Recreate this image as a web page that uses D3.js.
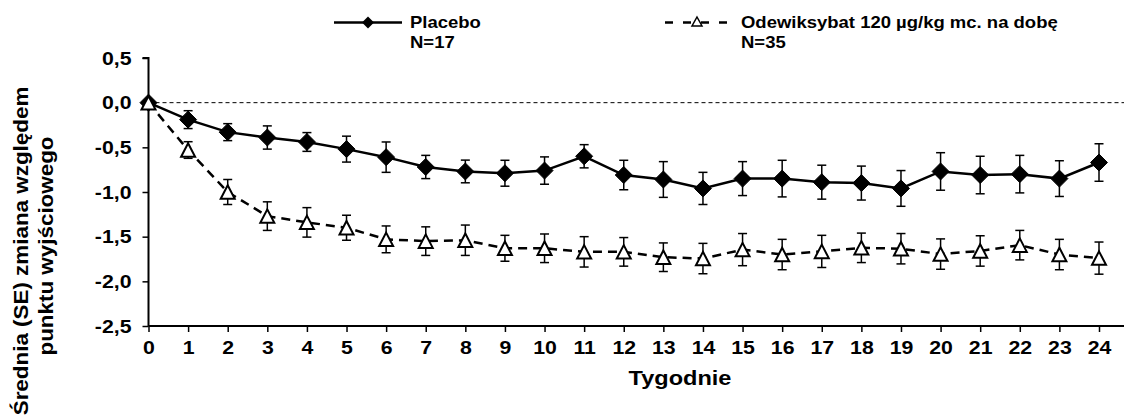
<!DOCTYPE html>
<html>
<head>
<meta charset="utf-8">
<script src="https://d3js.org/d3.v7.min.js"></script>
<style>
  body { margin: 0; background: #fff; }
  text { font-family: Arial, "Liberation Sans", sans-serif; font-weight: bold; fill: #000; }
</style>
</head>
<body>
<svg width="1124" height="418"></svg>
<script>
const weeks = [0, 1, 2, 3, 4, 5, 6, 7, 8, 9, 10, 11, 12, 13, 14, 15, 16, 17, 18, 19, 20, 21, 22, 23, 24];

const placeboMean = [0, -0.19, -0.33, -0.39, -0.44, -0.52, -0.61, -0.72, -0.77, -0.79, -0.76, -0.60, -0.81, -0.86,
  -0.96, -0.85, -0.85, -0.89, -0.90, -0.96, -0.77, -0.81, -0.80, -0.85, -0.67];
const placeboSE = [0, 0.10, 0.095, 0.13, 0.105, 0.145, 0.17, 0.13, 0.127, 0.145, 0.153, 0.13, 0.165, 0.20,
  0.18, 0.19, 0.205, 0.19, 0.19, 0.20, 0.21, 0.21, 0.21, 0.20, 0.21];

const odeMean = [0, -0.53, -1.00, -1.27, -1.34, -1.40, -1.53, -1.55, -1.54, -1.63, -1.63, -1.67, -1.67, -1.73,
  -1.745, -1.645, -1.70, -1.665, -1.625, -1.635, -1.695, -1.66, -1.595, -1.70, -1.74];
const odeSE = [0, 0.093, 0.14, 0.16, 0.165, 0.14, 0.15, 0.16, 0.17, 0.145, 0.16, 0.17, 0.16, 0.16,
  0.17, 0.18, 0.17, 0.18, 0.165, 0.17, 0.17, 0.17, 0.165, 0.17, 0.18];

const yTicks = [0.5, 0, -0.5, -1, -1.5, -2, -2.5];
const yTitle = ['Średnia (SE) zmiana względem', 'punktu wyjściowego'];
const xTitle = 'Tygodnie';
const legendItems = [
  { name: 'Placebo', n: 'N=17' },
  { name: 'Odewiksybat 120 µg/kg mc. na dobę', n: 'N=35' }
];

const svg = d3.select('svg');
const plotL = 148.5, plotR = 1099, plotT = 58, plotB = 326;

const x = d3.scaleLinear().domain([0, 24]).range([plotL, plotR]);
const y = d3.scaleLinear().domain([-2.5, 0.5]).range([plotB, plotT]);
const fmt = v => d3.format('.1f')(v).replace('.', ',').replace('−', '-');

// zero reference line
svg.append('line')
    .attr('x1', plotL).attr('x2', 1124)
    .attr('y1', y(0)).attr('y2', y(0))
    .attr('stroke', '#000').attr('stroke-width', 1)
    .attr('stroke-dasharray', '4,3');

// axes
const yAxisG = svg.append('g')
    .attr('transform', `translate(${plotL},0)`)
    .call(d3.axisLeft(y).tickValues(yTicks).tickFormat(fmt).tickSize(6).tickPadding(11));
const xAxisG = svg.append('g')
    .attr('transform', `translate(0,${plotB})`)
    .call(d3.axisBottom(x).tickValues(weeks).tickFormat(d => d).tickSize(6).tickPadding(9));
yAxisG.select('.domain').attr('d', `M-6,${plotT}H0V${plotB}`);
xAxisG.select('.domain').attr('d', `M${plotL},0H1124`);
[yAxisG, xAxisG].forEach(a => {
  a.selectAll('.domain').attr('stroke', '#000').attr('stroke-width', 2);
  a.selectAll('.tick line').attr('stroke', '#000').attr('stroke-width', 1.5);
  a.selectAll('.tick text').style('font-family', 'Arial, "Liberation Sans", sans-serif')
      .style('font-weight', 'bold').style('font-size', '19px').attr('fill', '#000');
});

// axis titles
svg.append('text')
    .attr('x', 680).attr('y', 385)
    .attr('text-anchor', 'middle')
    .style('font-size', '21px')
    .text(xTitle);

svg.append('text')
    .attr('transform', 'translate(28,251) rotate(-90)')
    .attr('text-anchor', 'middle')
    .style('font-size', '20px')
    .text(yTitle[0]);
svg.append('text')
    .attr('transform', 'translate(53,246) rotate(-90)')
    .attr('text-anchor', 'middle')
    .style('font-size', '20px')
    .text(yTitle[1]);

const diamond = r => `M0,${-r}L${r},0L0,${r}L${-r},0Z`;
const triangle = (w, h) => `M0,${-h / 2}L${w / 2},${h / 2}L${-w / 2},${h / 2}Z`;

function drawSeries(mean, se, dash, marker) {
  const data = weeks.map((w, i) => ({ w: w, m: mean[i], se: se[i] }));
  const g = svg.append('g');
  g.append('path')
      .datum(data)
      .attr('fill', 'none')
      .attr('stroke', '#000')
      .attr('stroke-width', 2.5)
      .attr('stroke-dasharray', dash)
      .attr('d', d3.line().x(d => x(d.w)).y(d => y(d.m)));

  const eb = g.selectAll('.eb').data(data.filter(d => d.se > 0)).enter().append('g')
      .attr('stroke', '#000').attr('stroke-width', 1.5);
  eb.append('line')
      .attr('x1', d => x(d.w)).attr('x2', d => x(d.w))
      .attr('y1', d => y(d.m + d.se)).attr('y2', d => y(d.m - d.se));
  eb.append('line')
      .attr('x1', d => x(d.w) - 4.5).attr('x2', d => x(d.w) + 4.5)
      .attr('y1', d => y(d.m + d.se)).attr('y2', d => y(d.m + d.se));
  eb.append('line')
      .attr('x1', d => x(d.w) - 4.5).attr('x2', d => x(d.w) + 4.5)
      .attr('y1', d => y(d.m - d.se)).attr('y2', d => y(d.m - d.se));

  g.selectAll('.mk').data(data).enter().append('path')
      .attr('transform', d => `translate(${x(d.w)},${y(d.m)})`)
      .attr('d', marker.d)
      .attr('fill', marker.fill)
      .attr('stroke', '#000')
      .attr('stroke-width', marker.sw);
}

drawSeries(placeboMean, placeboSE, null, { d: diamond(8.5), fill: '#000', sw: 1 });
drawSeries(odeMean, odeSE, '9,6', { d: triangle(14, 13.5), fill: '#fff', sw: 2 });

// legend
const leg = svg.append('g');
leg.append('line').attr('x1', 334).attr('x2', 402).attr('y1', 22.5).attr('y2', 22.5)
    .attr('stroke', '#000').attr('stroke-width', 2.5);
leg.append('path').attr('transform', 'translate(368,22.5)').attr('d', diamond(6)).attr('fill', '#000');
leg.append('line').attr('x1', 665).attr('x2', 729).attr('y1', 22.5).attr('y2', 22.5)
    .attr('stroke', '#000').attr('stroke-width', 2.5).attr('stroke-dasharray', '8,10');
leg.append('path').attr('transform', 'translate(697,21.5)').attr('d', triangle(10, 9))
    .attr('fill', '#fff').attr('stroke', '#000').attr('stroke-width', 1.5);

[410, 741].forEach((lx, i) => {
  leg.append('text').attr('x', lx).attr('y', 28).style('font-size', '16.5px').text(legendItems[i].name);
  leg.append('text').attr('x', lx).attr('y', 48).style('font-size', '16.5px').text(legendItems[i].n);
});

// the source text is a little wider than plain Arial Bold
svg.selectAll('text').each(function() {
  const len = this.getComputedTextLength();
  d3.select(this).attr('textLength', len * 1.12).attr('lengthAdjust', 'spacingAndGlyphs');
});
</script>
</body>
</html>
